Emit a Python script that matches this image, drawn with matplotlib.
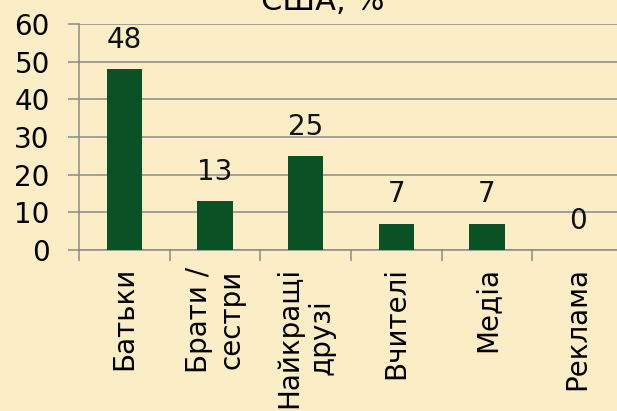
import matplotlib.pyplot as plt
import numpy as np

categories = ['Батьки', 'Брати /\nсестри', 'Найкращі\nдрузі', 'Вчителі', 'Медіа', 'Реклама']
values = [48, 13, 25, 7, 7, 0]
yticks = [0, 10, 20, 30, 40, 50, 60]

bg = '#fbeec6'
bar_color = '#0b5126'
grid_color = '#8a8a8a'

plt.rcParams['font.family'] = 'DejaVu Sans'

fig = plt.figure(figsize=(6.17, 4.11), dpi=100, facecolor=bg)
ax = fig.add_axes([79 / 617, 161 / 411, 544 / 617, 226 / 411])
ax.set_facecolor('none')

x = np.arange(len(categories))
ax.bar(x, values, width=0.39, color=bar_color, zorder=3)

for xi, v in zip(x, values):
    ax.annotate(str(v), (xi, v), xytext=(0, 11), textcoords='offset points',
                ha='center', va='bottom', fontsize=20, color='#111111')

ax.set_xlim(-0.5, len(categories) - 0.5)
ax.set_ylim(0, 60)
ax.set_yticks(yticks)
ax.yaxis.grid(True, color=grid_color, lw=1.1, zorder=1)

# tick marks sit on category boundaries, labels under the bar centres
ax.set_xticks(np.arange(len(categories)) - 0.5)
ax.set_xticklabels([])
ax.set_xticks(x, minor=True)
ax.set_xticklabels(categories, minor=True, rotation=90, fontsize=20,
                   ha='center', va='top', multialignment='center')
ax.tick_params(axis='x', which='major', length=8, width=1.1, color=grid_color, direction='out')
ax.tick_params(axis='x', which='minor', length=0, pad=12)
ax.tick_params(axis='y', length=8, width=1.1, color=grid_color, labelsize=20, pad=13)

for side in ['top', 'right']:
    ax.spines[side].set_visible(False)
for side in ['left', 'bottom']:
    ax.spines[side].set_color(grid_color)
    ax.spines[side].set_linewidth(1.1)

fig.text(323 / 617, 1 - 10 / 411, 'США, %', ha='center', va='baseline', fontsize=22)

fig.savefig('out.png', dpi=100, facecolor=bg)
